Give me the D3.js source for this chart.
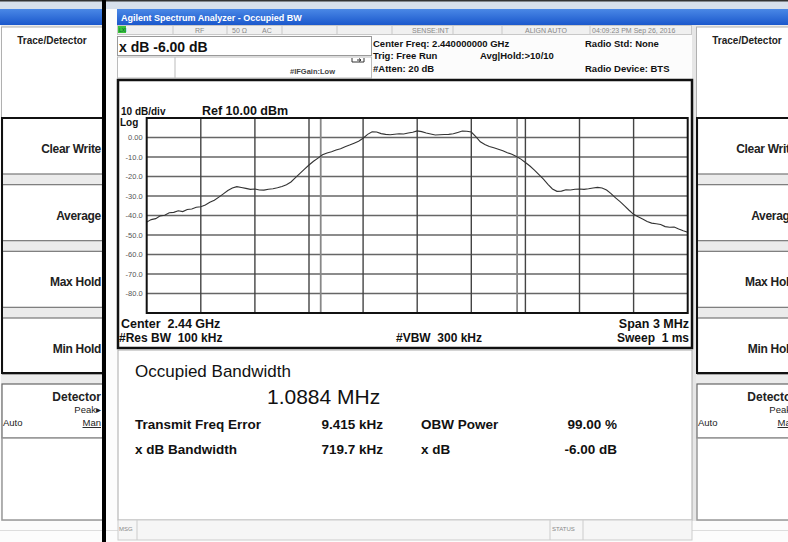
<!DOCTYPE html>
<html>
<head>
<meta charset="utf-8">
<script src="https://cdn.jsdelivr.net/npm/d3@7"></script>
<style>
  body { margin: 0; background: #fff; }
  svg { display: block; font-family: "Liberation Sans", Arial, sans-serif; }
</style>
</head>
<body>
<div id="chart-area"></div>
<script>
// trace data (offset from 2.44 GHz in MHz, level in dBm)
var freqOffsetMHz = [
  -1.500, -1.475, -1.450, -1.425, -1.400, -1.375, -1.350, -1.325, -1.300, -1.275,
  -1.250, -1.225, -1.200, -1.175, -1.150, -1.125, -1.100, -1.075, -1.050, -1.025,
  -1.000, -0.975, -0.950, -0.925, -0.900, -0.875, -0.850, -0.825, -0.800, -0.775,
  -0.750, -0.725, -0.700, -0.675, -0.650, -0.625, -0.600, -0.575, -0.550, -0.525,
  -0.500, -0.475, -0.450, -0.425, -0.400, -0.375, -0.350, -0.325, -0.300, -0.275,
  -0.250, -0.225, -0.200, -0.175, -0.150, -0.125, -0.100, -0.075, -0.050, -0.025,
  0.000, 0.025, 0.050, 0.075, 0.100, 0.125, 0.150, 0.175, 0.200, 0.225,
  0.250, 0.275, 0.300, 0.325, 0.350, 0.375, 0.400, 0.425, 0.450, 0.475,
  0.500, 0.525, 0.550, 0.575, 0.600, 0.625, 0.650, 0.675, 0.700, 0.725,
  0.750, 0.775, 0.800, 0.825, 0.850, 0.875, 0.900, 0.925, 0.950, 0.975,
  1.000, 1.025, 1.050, 1.075, 1.100, 1.125, 1.150, 1.175, 1.200, 1.225,
  1.250, 1.275, 1.300, 1.325, 1.350, 1.375, 1.400, 1.425, 1.450, 1.475, 1.500];
var traceDbm = [
  -43.4, -42.1, -41.6, -40.2, -39.9, -38.6, -38.4, -37.6, -38.0, -36.9,
  -36.7, -35.8, -35.5, -34.6, -33.2, -32.2, -30.6, -28.9, -27.2, -25.9,
  -25.2, -25.6, -26.1, -26.6, -26.4, -26.9, -27.0, -26.5, -26.3, -25.8,
  -25.1, -24.2, -22.8, -20.6, -18.4, -16.2, -14.1, -12.2, -10.6, -8.9,
  -7.9, -7.3, -6.4, -5.8, -4.7, -3.9, -2.9, -1.9, -0.4, 1.6,
  2.9, 2.8, 2.0, 1.6, 1.4, 1.7, 1.9, 1.8, 2.3, 2.7,
  3.4, 3.0, 2.3, 1.8, 1.3, 1.4, 1.5, 1.6, 1.9, 2.6,
  3.3, 3.2, 2.8, 0.4, -2.2, -3.6, -4.6, -5.3, -6.0, -6.8,
  -7.8, -8.6, -9.7, -11.1, -12.8, -14.6, -16.7, -19.0, -21.3, -24.0,
  -26.4, -27.6, -27.5, -26.8, -26.9, -26.5, -26.4, -26.6, -26.3, -25.9,
  -25.6, -25.9, -26.9, -28.8, -31.0, -32.9, -35.1, -37.3, -39.4, -40.6,
  -41.8, -43.1, -43.9, -44.2, -44.6, -45.7, -46.0, -45.9, -46.9, -47.8, -48.6];

var yTickValues = [0, -10, -20, -30, -40, -50, -60, -70, -80];
var yTickLabels = ["0.00", "-10.0", "-20.0", "-30.0", "-40.0", "-50.0", "-60.0", "-70.0", "-80.0"];
var xGridMHz = [-1.2, -0.9, -0.6, -0.3, 0, 0.3, 0.6, 0.9, 1.2];
var obwEdgesMHz = [-0.535, 0.554];

var softKeys = ["Clear Write", "Average", "Max Hold", "Min Hold"];
var statusCells = [
  {x: 195, t: "RF"}, {x: 232, t: "50 \u03a9"}, {x: 262, t: "AC"},
  {x: 412, t: "SENSE:INT"}, {x: 525, t: "ALIGN AUTO"}, {x: 592, t: "04:09:23 PM Sep 26, 2016"}
];
var results = [
  ["Transmit Freq Error", "9.415 kHz", "OBW Power", "99.00 %"],
  ["x dB Bandwidth", "719.7 kHz", "x dB", "-6.00 dB"]
];

var W = 788, H = 542;
var svg = d3.select("#chart-area").append("svg")
    .attr("width", W)
    .attr("height", H);

var grad = svg.append("defs").append("linearGradient")
    .attr("id", "titleBlue").attr("x1", 0).attr("y1", 0).attr("x2", 0).attr("y2", 1);
grad.append("stop").attr("offset", "0%").attr("stop-color", "#4a88e6");
grad.append("stop").attr("offset", "100%").attr("stop-color", "#1b58cc");

// background, top strip
svg.append("rect").attr("width", W).attr("height", H).attr("fill", "#fcfcfc");
svg.append("rect").attr("width", W).attr("height", 9).attr("fill", "#d7e0ec");
svg.append("rect").attr("width", W).attr("height", 1.5).attr("fill", "#333");
svg.append("rect").attr("x", 0).attr("y", 530).attr("width", W).attr("height", 1).attr("fill", "#ddd");

// blue title bars
svg.append("rect").attr("x", 0).attr("y", 9).attr("width", 102).attr("height", 16).attr("fill", "url(#titleBlue)");
svg.append("rect").attr("x", 117).attr("y", 9).attr("width", W - 117).attr("height", 16).attr("fill", "url(#titleBlue)");
svg.append("text").attr("x", 121).attr("y", 20.5)
    .attr("font-size", "9px").attr("font-weight", "bold").attr("fill", "#fff")
    .text("Agilent Spectrum Analyzer - Occupied BW");

// soft key panels (right side of the instrument, shown twice)
function drawPanel(x0) {
  var p = svg.append("g").attr("transform", "translate(" + x0 + ",0)");
  p.append("rect").attr("x", 1).attr("y", 25).attr("width", 102).attr("height", 496).attr("fill", "#ebebeb");
  p.append("rect").attr("x", 1.5).attr("y", 27).attr("width", 101).attr("height", 91)
      .attr("fill", "#fff").attr("stroke", "#b0b0b0");
  p.append("text").attr("x", 52).attr("y", 44).attr("text-anchor", "middle")
      .attr("font-size", "10px").attr("font-weight", "bold").attr("fill", "#222")
      .text("Trace/Detector");

  var keyY = d3.scaleBand().domain(softKeys).range([118, 374]).paddingInner(0.16);
  p.selectAll(".key").data(softKeys).enter().append("rect")
      .attr("x", 2.5).attr("y", d => keyY(d)).attr("width", 100).attr("height", keyY.bandwidth())
      .attr("fill", "#fff").attr("stroke", "#777").attr("stroke-width", 1.2);
  p.selectAll(".keyLabel").data(softKeys).enter().append("text")
      .attr("x", 101).attr("y", d => keyY(d) + keyY.bandwidth() / 2 + 7)
      .attr("text-anchor", "end").attr("font-size", "12px").attr("font-weight", "bold")
      .attr("letter-spacing", "-0.3px").attr("fill", "#222")
      .text(d => d);
  p.append("rect").attr("x", 2).attr("y", 118).attr("width", 101).attr("height", 255)
      .attr("fill", "none").attr("stroke", "#111").attr("stroke-width", 2);

  p.append("rect").attr("x", 2).attr("y", 384).attr("width", 101).attr("height", 54)
      .attr("fill", "#fff").attr("stroke", "#666").attr("stroke-width", 1.2);
  p.append("text").attr("x", 101).attr("y", 401).attr("text-anchor", "end")
      .attr("font-size", "12px").attr("font-weight", "bold").attr("fill", "#222").text("Detector");
  p.append("text").attr("x", 101).attr("y", 413).attr("text-anchor", "end")
      .attr("font-size", "9.5px").attr("fill", "#222").text("Peak\u25b8");
  p.append("text").attr("x", 3).attr("y", 426)
      .attr("font-size", "9.5px").attr("fill", "#222").text("Auto");
  p.append("text").attr("x", 101).attr("y", 426).attr("text-anchor", "end")
      .attr("font-size", "9.5px").attr("fill", "#222").attr("text-decoration", "underline").text("Man");
  p.append("rect").attr("x", 2).attr("y", 438).attr("width", 101).attr("height", 82)
      .attr("fill", "#fff").attr("stroke", "#999").attr("stroke-width", 1.5);
}
drawPanel(0);
drawPanel(695);

// separator between left panel and screen
svg.append("rect").attr("x", 102).attr("y", 0).attr("width", 4).attr("height", H).attr("fill", "#000");
svg.append("rect").attr("x", 692).attr("y", 25).attr("width", 4).attr("height", 496).attr("fill", "#e6e6e6");

// status row
svg.append("rect").attr("x", 117.5).attr("y", 25.5).attr("width", 574).attr("height", 9)
    .attr("fill", "#f0f0f0").attr("stroke", "#c8c8c8");
svg.selectAll(".cellSep").data([173, 227, 282, 337, 392, 453, 502, 590]).enter().append("line")
    .attr("x1", d => d).attr("x2", d => d).attr("y1", 25.5).attr("y2", 34.5)
    .attr("stroke", "#c8c8c8");
svg.append("rect").attr("x", 118).attr("y", 26).attr("width", 8).attr("height", 7).attr("fill", "#39c23a");
svg.append("text").attr("x", 119).attr("y", 32).attr("font-size", "5px").attr("fill", "#063").text("LXI");
svg.selectAll(".status").data(statusCells).enter().append("text")
    .attr("x", d => d.x).attr("y", 32.5)
    .attr("font-size", "7px").attr("fill", "#888")
    .text(d => d.t);

// x dB entry box
svg.append("rect").attr("x", 117.5).attr("y", 36.5).attr("width", 254).attr("height", 19)
    .attr("fill", "#fff").attr("stroke", "#999");
svg.append("text").attr("x", 119).attr("y", 52)
    .attr("font-size", "14px").attr("font-weight", "bold").attr("fill", "#111")
    .text("x dB -6.00 dB");
svg.append("rect").attr("x", 117.5).attr("y", 57).attr("width", 254).attr("height", 21)
    .attr("fill", "#fff").attr("stroke", "#bbb");
svg.append("line").attr("x1", 175).attr("x2", 175).attr("y1", 57).attr("y2", 78).attr("stroke", "#bbb");
svg.append("text").attr("x", 290).attr("y", 74)
    .attr("font-size", "7.5px").attr("font-weight", "bold").attr("fill", "#444")
    .text("#IFGain:Low");
svg.append("path").attr("d", "M352,58 L352,62 L364,62 L364,58 M357,60 L361,60 M359,58.5 L361,60 L359,61.5")
    .attr("fill", "none").attr("stroke", "#333").attr("stroke-width", 1);

// header settings
var hdr = [
  {x: 373, y: 47, t: "Center Freq: 2.440000000 GHz"},
  {x: 373, y: 59, t: "Trig: Free Run"},
  {x: 480, y: 59, t: "Avg|Hold:>10/10"},
  {x: 373, y: 72, t: "#Atten: 20 dB"},
  {x: 585, y: 47, t: "Radio Std: None"},
  {x: 585, y: 72, t: "Radio Device: BTS"}
];
svg.selectAll(".hdr").data(hdr).enter().append("text")
    .attr("x", d => d.x).attr("y", d => d.y)
    .attr("font-size", "9.5px").attr("font-weight", "bold").attr("fill", "#111")
    .text(d => d.t);

// plot frame
svg.append("rect").attr("x", 118).attr("y", 80).attr("width", 574).attr("height", 268)
    .attr("fill", "#fff").attr("stroke", "#111").attr("stroke-width", 2.5);

var gx0 = 146.7, gx1 = 687.7, gy0 = 118, gy1 = 313;

// X scale (offset from center, MHz)
var x = d3.scaleLinear().domain([-1.5, 1.5]).range([gx0, gx1]);
// Y scale (dBm)
var y = d3.scaleLinear().domain([-90, 10]).range([gy1, gy0]);

var g = svg.append("g");

g.selectAll(".hgrid").data(yTickValues).enter().append("line")
    .attr("x1", gx0).attr("x2", gx1)
    .attr("y1", d => y(d)).attr("y2", d => y(d))
    .attr("stroke", "#666").attr("stroke-width", 1.4);
g.selectAll(".vgrid").data(xGridMHz).enter().append("line")
    .attr("y1", gy0).attr("y2", gy1)
    .attr("x1", d => x(d)).attr("x2", d => x(d))
    .attr("stroke", "#444").attr("stroke-width", 1.4);
g.selectAll(".obw").data(obwEdgesMHz).enter().append("line")
    .attr("y1", gy0).attr("y2", gy1)
    .attr("x1", d => x(d)).attr("x2", d => x(d))
    .attr("stroke", "#888").attr("stroke-width", 1.8);

// trace
var line = d3.line()
    .x((d, i) => x(freqOffsetMHz[i]))
    .y(d => y(d));
g.append("path").datum(traceDbm)
    .attr("d", line)
    .attr("fill", "none").attr("stroke", "#333").attr("stroke-width", 1.1);

g.append("rect").attr("x", gx0).attr("y", gy0).attr("width", gx1 - gx0).attr("height", gy1 - gy0)
    .attr("fill", "none").attr("stroke", "#111").attr("stroke-width", 2);

// Y axis labels
var yAxis = d3.axisLeft(y).tickValues(yTickValues).tickSize(0).tickPadding(4)
    .tickFormat((d, i) => yTickLabels[i]);
var yAxisGroup = svg.append("g").attr("transform", "translate(" + gx0 + ",0)").call(yAxis);
yAxisGroup.select(".domain").remove();
yAxisGroup.selectAll("text")
    .attr("font-family", "\"Liberation Sans\", Arial, sans-serif")
    .attr("font-size", "7.5px").attr("fill", "#555");

// plot annotations
var ann = [
  {x: 121, y: 115, t: "10 dB/div", s: 10, a: "start"},
  {x: 202, y: 115, t: "Ref 10.00 dBm", s: 12.5, a: "start"},
  {x: 120, y: 126, t: "Log", s: 10, a: "start"},
  {x: 121, y: 328, t: "Center  2.44 GHz", s: 12.5, a: "start"},
  {x: 119, y: 342, t: "#Res BW  100 kHz", s: 12, a: "start"},
  {x: 396, y: 342, t: "#VBW  300 kHz", s: 12, a: "start"},
  {x: 689, y: 328, t: "Span 3 MHz", s: 12.5, a: "end"},
  {x: 689, y: 342, t: "Sweep  1 ms", s: 12, a: "end"}
];
svg.selectAll(".ann").data(ann).enter().append("text")
    .attr("x", d => d.x).attr("y", d => d.y)
    .attr("text-anchor", d => d.a)
    .attr("font-size", d => d.s + "px").attr("font-weight", "bold").attr("fill", "#111")
    .style("white-space", "pre").attr("xml:space", "preserve")
    .text(d => d.t);

// results panel
svg.append("rect").attr("x", 118).attr("y", 350).attr("width", 574).attr("height", 170)
    .attr("fill", "#fff").attr("stroke", "#aaa");
svg.append("text").attr("x", 135).attr("y", 377)
    .attr("font-size", "17px").attr("fill", "#111").text("Occupied Bandwidth");
svg.append("text").attr("x", 267).attr("y", 404)
    .attr("font-size", "21px").attr("fill", "#111").text("1.0884 MHz");
var rowY = [429, 454];
results.forEach((r, i) => {
  var cols = [{x: 135, a: "start"}, {x: 383, a: "end"}, {x: 421, a: "start"}, {x: 617, a: "end"}];
  svg.selectAll(".res" + i).data(r).enter().append("text")
      .attr("x", (d, j) => cols[j].x).attr("y", rowY[i])
      .attr("text-anchor", (d, j) => cols[j].a)
      .attr("font-size", "13.5px").attr("font-weight", "bold").attr("fill", "#111")
      .text(d => d);
});

// message bar
svg.append("rect").attr("x", 118).attr("y", 520).attr("width", 574).attr("height", 20)
    .attr("fill", "#f6f6f6").attr("stroke", "#ccc");
svg.selectAll(".msgSep").data([137, 550, 583]).enter().append("line")
    .attr("x1", d => d).attr("x2", d => d).attr("y1", 520).attr("y2", 540).attr("stroke", "#ccc");
svg.append("text").attr("x", 119).attr("y", 531).attr("font-size", "6px").attr("fill", "#888").text("MSG");
svg.append("text").attr("x", 552).attr("y", 531).attr("font-size", "6px").attr("fill", "#888").text("STATUS");
</script>
</body>
</html>
